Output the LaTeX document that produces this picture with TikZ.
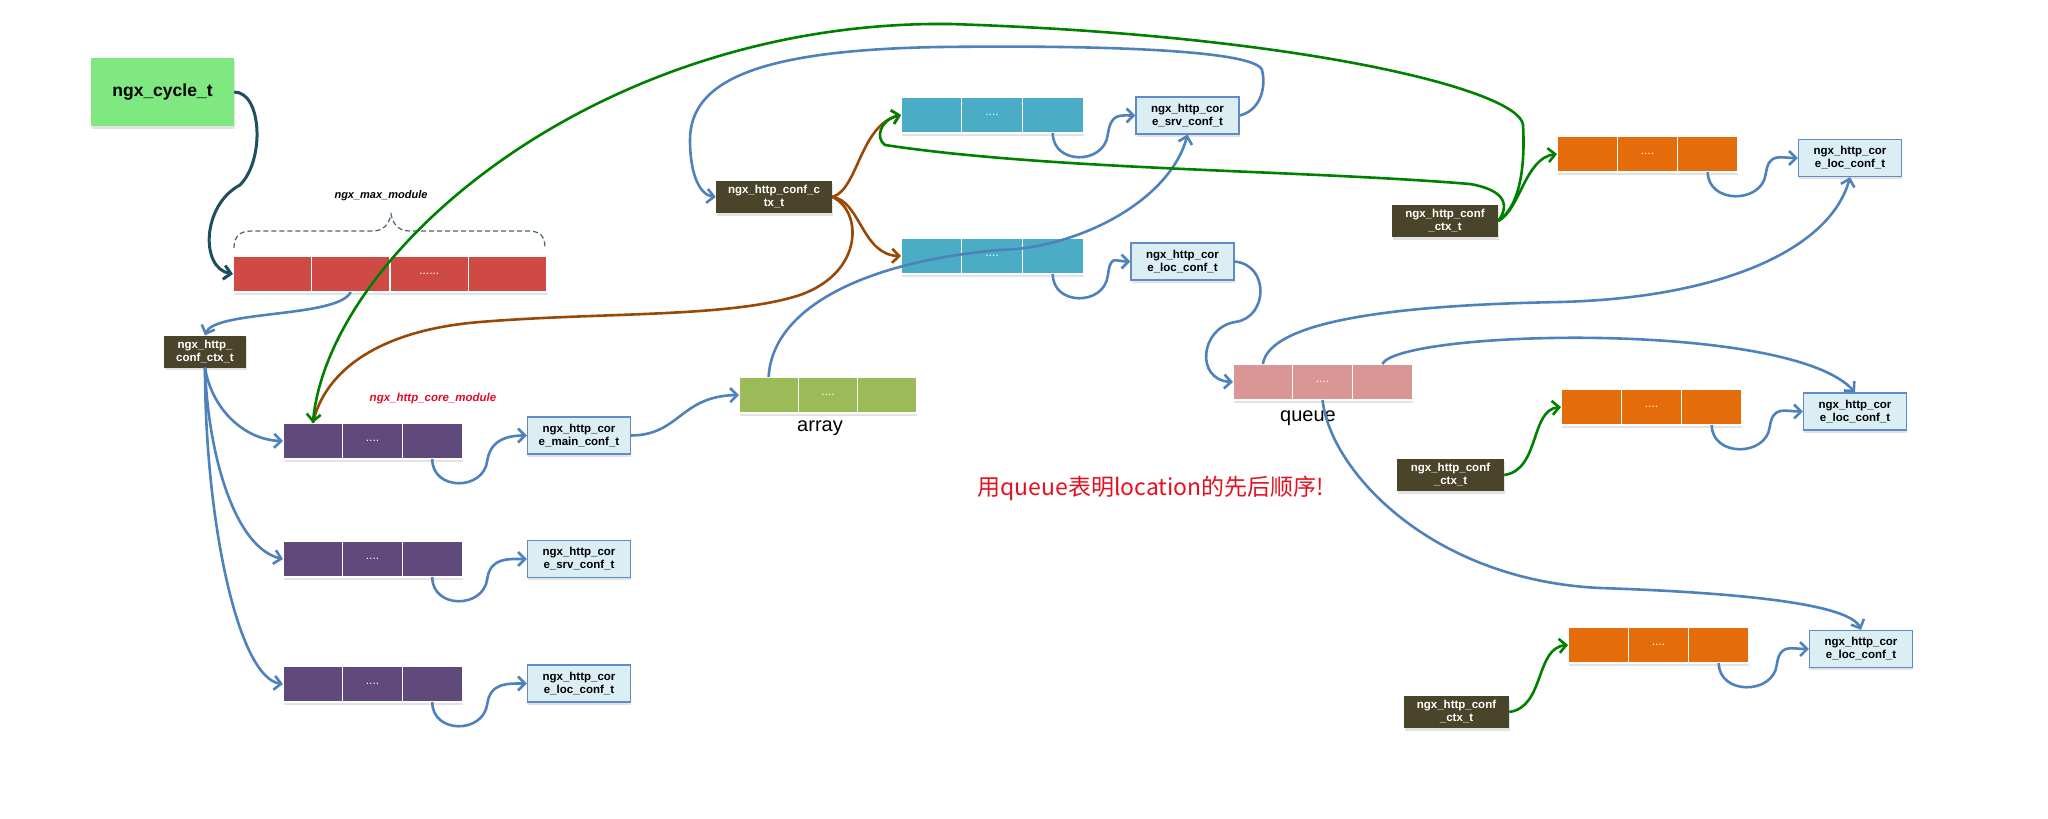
\documentclass[tikz,border=0pt]{standalone}
\usepackage{fontspec}
\setmainfont{Liberation Sans}
\newfontfamily\cjkfont{Noto Sans CJK SC}
\usetikzlibrary{arrows.meta,shadows}
\definecolor{cyclegreen}{RGB}{128,232,128}
\definecolor{redcell}{RGB}{208,74,69}
\definecolor{purplecell}{RGB}{96,74,123}
\definecolor{cyancell}{RGB}{75,172,198}
\definecolor{greencell}{RGB}{155,187,89}
\definecolor{pinkcell}{RGB}{217,150,148}
\definecolor{orangecell}{RGB}{228,108,10}
\definecolor{confbg}{RGB}{219,238,244}
\definecolor{confborder}{RGB}{95,140,200}
\definecolor{ctxbg}{RGB}{74,69,42}
\definecolor{bluec}{RGB}{79,129,189}
\definecolor{greenc}{RGB}{0,128,0}
\definecolor{brownc}{RGB}{152,72,7}
\definecolor{tealc}{RGB}{30,78,98}
\definecolor{bracec}{RGB}{70,100,110}
\definecolor{redtext}{RGB}{228,16,30}
\definecolor{modred}{RGB}{225,10,40}
\tikzset{
  shdw/.style={drop shadow={shadow xshift=0.5pt,shadow yshift=-2.5pt,opacity=0.18,fill=black!60}},
  cell/.style={draw=white, line width=1.2pt, inner sep=0pt, outer sep=0pt, anchor=north west,
    minimum height=36pt, text=white, font=\fontsize{12}{12}\selectfont, shdw},
  conf/.style={draw=confborder, fill=confbg, line width=1.2pt, minimum width=103pt, minimum height=37pt,
    align=center, inner sep=1pt, font=\bfseries\fontsize{11.5}{13}\selectfont, shdw},
  ctx/.style={fill=ctxbg, text=white, minimum height=32pt, align=center, inner sep=1pt,
    font=\bfseries\fontsize{11.5}{13}\selectfont, shdw},
  tip/.style={-{Straight Barb[length=7pt,width=14pt]}},
  blueln/.style={draw=bluec, line width=2.6pt, tip},
  greenln/.style={draw=greenc, line width=2.6pt, tip},
  brownln/.style={draw=brownc, line width=2.6pt, tip},
  tealln/.style={draw=tealc, line width=3pt, tip},
}
\newcommand\threecells[5]{%
  \node[cell, fill=#5, minimum width=#4] (#1a) at (#2,#3) {};
  \node[cell, fill=#5, minimum width=#4] (#1b) at (#1a.north east) {....};
  \node[cell, fill=#5, minimum width=#4] (#1c) at (#1b.north east) {};
}
\begin{document}
\begin{tikzpicture}[x=1pt,y=-1pt]
\useasboundingbox (0,0) rectangle (2048,819);

% ---- nodes ----
\node[fill=cyclegreen, minimum width=143pt, minimum height=68pt, shdw,
  font=\bfseries\fontsize{17.5}{20}\selectfont] (cycle) at (162.5,92) {ngx\_cycle\_t};

% red array (4 cells)
\node[cell, fill=redcell, minimum width=78.5pt] (ra) at (233,256) {};
\node[cell, fill=redcell, minimum width=78.5pt] (rb) at (ra.north east) {};
\node[cell, fill=redcell, minimum width=78.5pt] (rc) at (rb.north east) {......};
\node[cell, fill=redcell, minimum width=78.5pt] (rd) at (rc.north east) {};

\node[font=\bfseries\itshape\fontsize{11}{13}\selectfont] (maxmod) at (381,196) {ngx\_max\_module};

\node[ctx, minimum width=82pt] (ctxL) at (205,351.5) {ngx\_http\_\\conf\_ctx\_t};

\node[text=modred, font=\bfseries\itshape\fontsize{11.5}{13}\selectfont] (coremod) at (433,399) {ngx\_http\_core\_module};

\threecells{pa}{283}{423}{59.7pt}{purplecell}
\threecells{pb}{283}{541}{59.7pt}{purplecell}
\threecells{pc}{283}{666}{59.7pt}{purplecell}

\node[conf] (mainC) at (579,435.5) {ngx\_http\_cor\\e\_main\_conf\_t};
\node[conf] (srvL) at (579,559) {ngx\_http\_cor\\e\_srv\_conf\_t};
\node[conf] (locL) at (579,683.5) {ngx\_http\_cor\\e\_loc\_conf\_t};

\threecells{ga}{739}{377}{59.3pt}{greencell}
\node[font=\fontsize{20}{22}\selectfont] (arraylbl) at (820,428) {array};

\node[ctx, minimum width=116pt] (ctxM) at (774,197) {ngx\_http\_conf\_c\\tx\_t};

\threecells{ca}{901}{97}{60.7pt}{cyancell}
\threecells{cb}{901}{238}{60.7pt}{cyancell}

\node[conf] (srvT) at (1187.5,115.5) {ngx\_http\_cor\\e\_srv\_conf\_t};
\node[conf] (locM) at (1182.5,261.5) {ngx\_http\_cor\\e\_loc\_conf\_t};

\threecells{q}{1233}{364}{59.7pt}{pinkcell}
\node[font=\fontsize{20}{22}\selectfont] (queuelbl) at (1308,418) {queue};

\node[text=redtext, font=\cjkfont\fontsize{23}{26}\selectfont] (note) at (1151,488) {用queue表明location的先后顺序!};

\node[ctx, minimum width=106pt] (ctxRT) at (1445,221) {ngx\_http\_conf\\\_ctx\_t};
\node[ctx, minimum width=107pt] (ctxRM) at (1450.5,475) {ngx\_http\_conf\\\_ctx\_t};
\node[ctx, minimum width=105pt] (ctxRB) at (1456.5,712) {ngx\_http\_conf\\\_ctx\_t};

\threecells{oa}{1557}{136}{60.3pt}{orangecell}
\threecells{ob}{1561}{389}{60.3pt}{orangecell}
\threecells{oc}{1568}{627}{60.3pt}{orangecell}

\node[conf] (locRT) at (1850,158) {ngx\_http\_cor\\e\_loc\_conf\_t};
\node[conf] (locRM) at (1855,411.5) {ngx\_http\_cor\\e\_loc\_conf\_t};
\node[conf] (locRB) at (1861,649) {ngx\_http\_cor\\e\_loc\_conf\_t};

% ---- dashed brace over red array ----
\draw[bracec, line width=1.2pt, dash pattern=on 5pt off 3pt]
  (234,248) .. controls (234,236) and (240,231) .. (252,231) -- (372,231)
  .. controls (384,231) and (389,224) .. (391,214)
  .. controls (393,224) and (398,231) .. (410,231) -- (528,231)
  .. controls (540,231) and (545,236) .. (545,248);

% ---- connectors ----
\draw[tealln] (cycle.east) .. controls (262,92) and (265,160) .. (240,185)
  .. controls (202,205) and (200,268) .. (ra.west);

\draw[blueln] (rb.south) .. controls (338,318) and (215,310) .. (ctxL.north);

\draw[blueln] (ctxL.south) .. controls (212,410) and (245,440) .. (paa.west);
\draw[blueln] (ctxL.south) .. controls (208,455) and (235,548) .. (pba.west);
\draw[blueln] (ctxL.south) .. controls (205,520) and (238,678) .. (pca.west);

% small loops
\draw[blueln] (pac.south) .. controls +(0,32) and +(-4,30) .. ++(55,2) .. controls +(3,-22) and +(-18,0) .. (mainC.west);
\draw[blueln] (pbc.south) .. controls +(0,32) and +(-4,30) .. ++(55,2) .. controls +(3,-22) and +(-18,0) .. (srvL.west);
\draw[blueln] (pcc.south) .. controls +(0,32) and +(-4,30) .. ++(55,2) .. controls +(3,-22) and +(-18,0) .. (locL.west);
\draw[blueln] (cac.south) .. controls +(0,32) and +(-4,30) .. ++(55,2) .. controls +(3,-22) and +(-16,0) .. (srvT.west);
\draw[blueln] (cbc.south) .. controls +(0,32) and +(-4,30) .. ++(55,2) .. controls +(3,-22) and +(-16,0) .. (locM.west);
\draw[blueln] (oac.south) .. controls +(0,32) and +(-4,30) .. ++(58,2) .. controls +(3,-22) and +(-18,0) .. (locRT.west);
\draw[blueln] (obc.south) .. controls +(0,32) and +(-4,30) .. ++(58,2) .. controls +(3,-22) and +(-18,0) .. (locRM.west);
\draw[blueln] (occ.south) .. controls +(0,32) and +(-4,30) .. ++(58,2) .. controls +(3,-22) and +(-18,0) .. (locRB.west);

\draw[blueln] (mainC.east) .. controls (680,435) and (680,396) .. (gaa.west);

\draw[blueln] (gaa.north) .. controls (772,310) and (860,262) .. (1000,250)
  .. controls (1080,248) and (1170,200) .. (srvT.south);

\draw[blueln] (srvT.east) .. controls (1262,110) and (1266,85) .. (1262,70)
  .. controls (1255,50) and (1100,45) .. (940,47)
  .. controls (760,50) and (690,80) .. (690,140)
  .. controls (690,175) and (700,195) .. (ctxM.west);

\draw[blueln] (locM.east) .. controls (1270,265) and (1268,318) .. (1235,322)
  .. controls (1200,328) and (1195,380) .. (qa.west);

\draw[blueln] (qa.north) .. controls (1270,320) and (1400,305) .. (1560,302)
  .. controls (1720,298) and (1830,250) .. (locRT.south);
\draw[blueln] (qc.north) .. controls (1400,330) and (1790,320) .. (locRM.north);
\draw[blueln] (qb.south) .. controls (1330,470) and (1430,580) .. (1600,588)
  .. controls (1750,593) and (1850,605) .. (locRB.north);

% brown
\draw[brownln] (ctxM.east) .. controls (858,190) and (860,125) .. (caa.west);
\draw[brownln] (ctxM.east) .. controls (860,200) and (862,255) .. (cba.west);
\draw[draw=brownc, line width=2.6pt] (ctxM.east) .. controls (862,210) and (865,272) .. (800,295)
  .. controls (730,318) and (600,312) .. (480,322)
  .. controls (380,330) and (325,370) .. (paa.north);

% green
\draw[greenln] (ctxRT.east) .. controls (1520,210) and (1525,158) .. (oaa.west);
\draw[greenln] (ctxRT.east) .. controls (1522,205) and (1525,160) .. (1523,125)
  .. controls (1520,90) and (1300,35) .. (950,24)
  .. controls (600,20) and (330,250) .. (paa.north);
\draw[greenln] (ctxRT.east) .. controls (1510,205) and (1505,190) .. (1470,184)
  .. controls (1300,170) and (1050,170) .. (885,145)
  .. controls (875,138) and (880,120) .. (caa.west);
\draw[greenln] (ctxRM.east) .. controls (1540,470) and (1530,410) .. (oba.west);
\draw[greenln] (ctxRB.east) .. controls (1545,707) and (1535,648) .. (oca.west);
\end{tikzpicture}
\end{document}
